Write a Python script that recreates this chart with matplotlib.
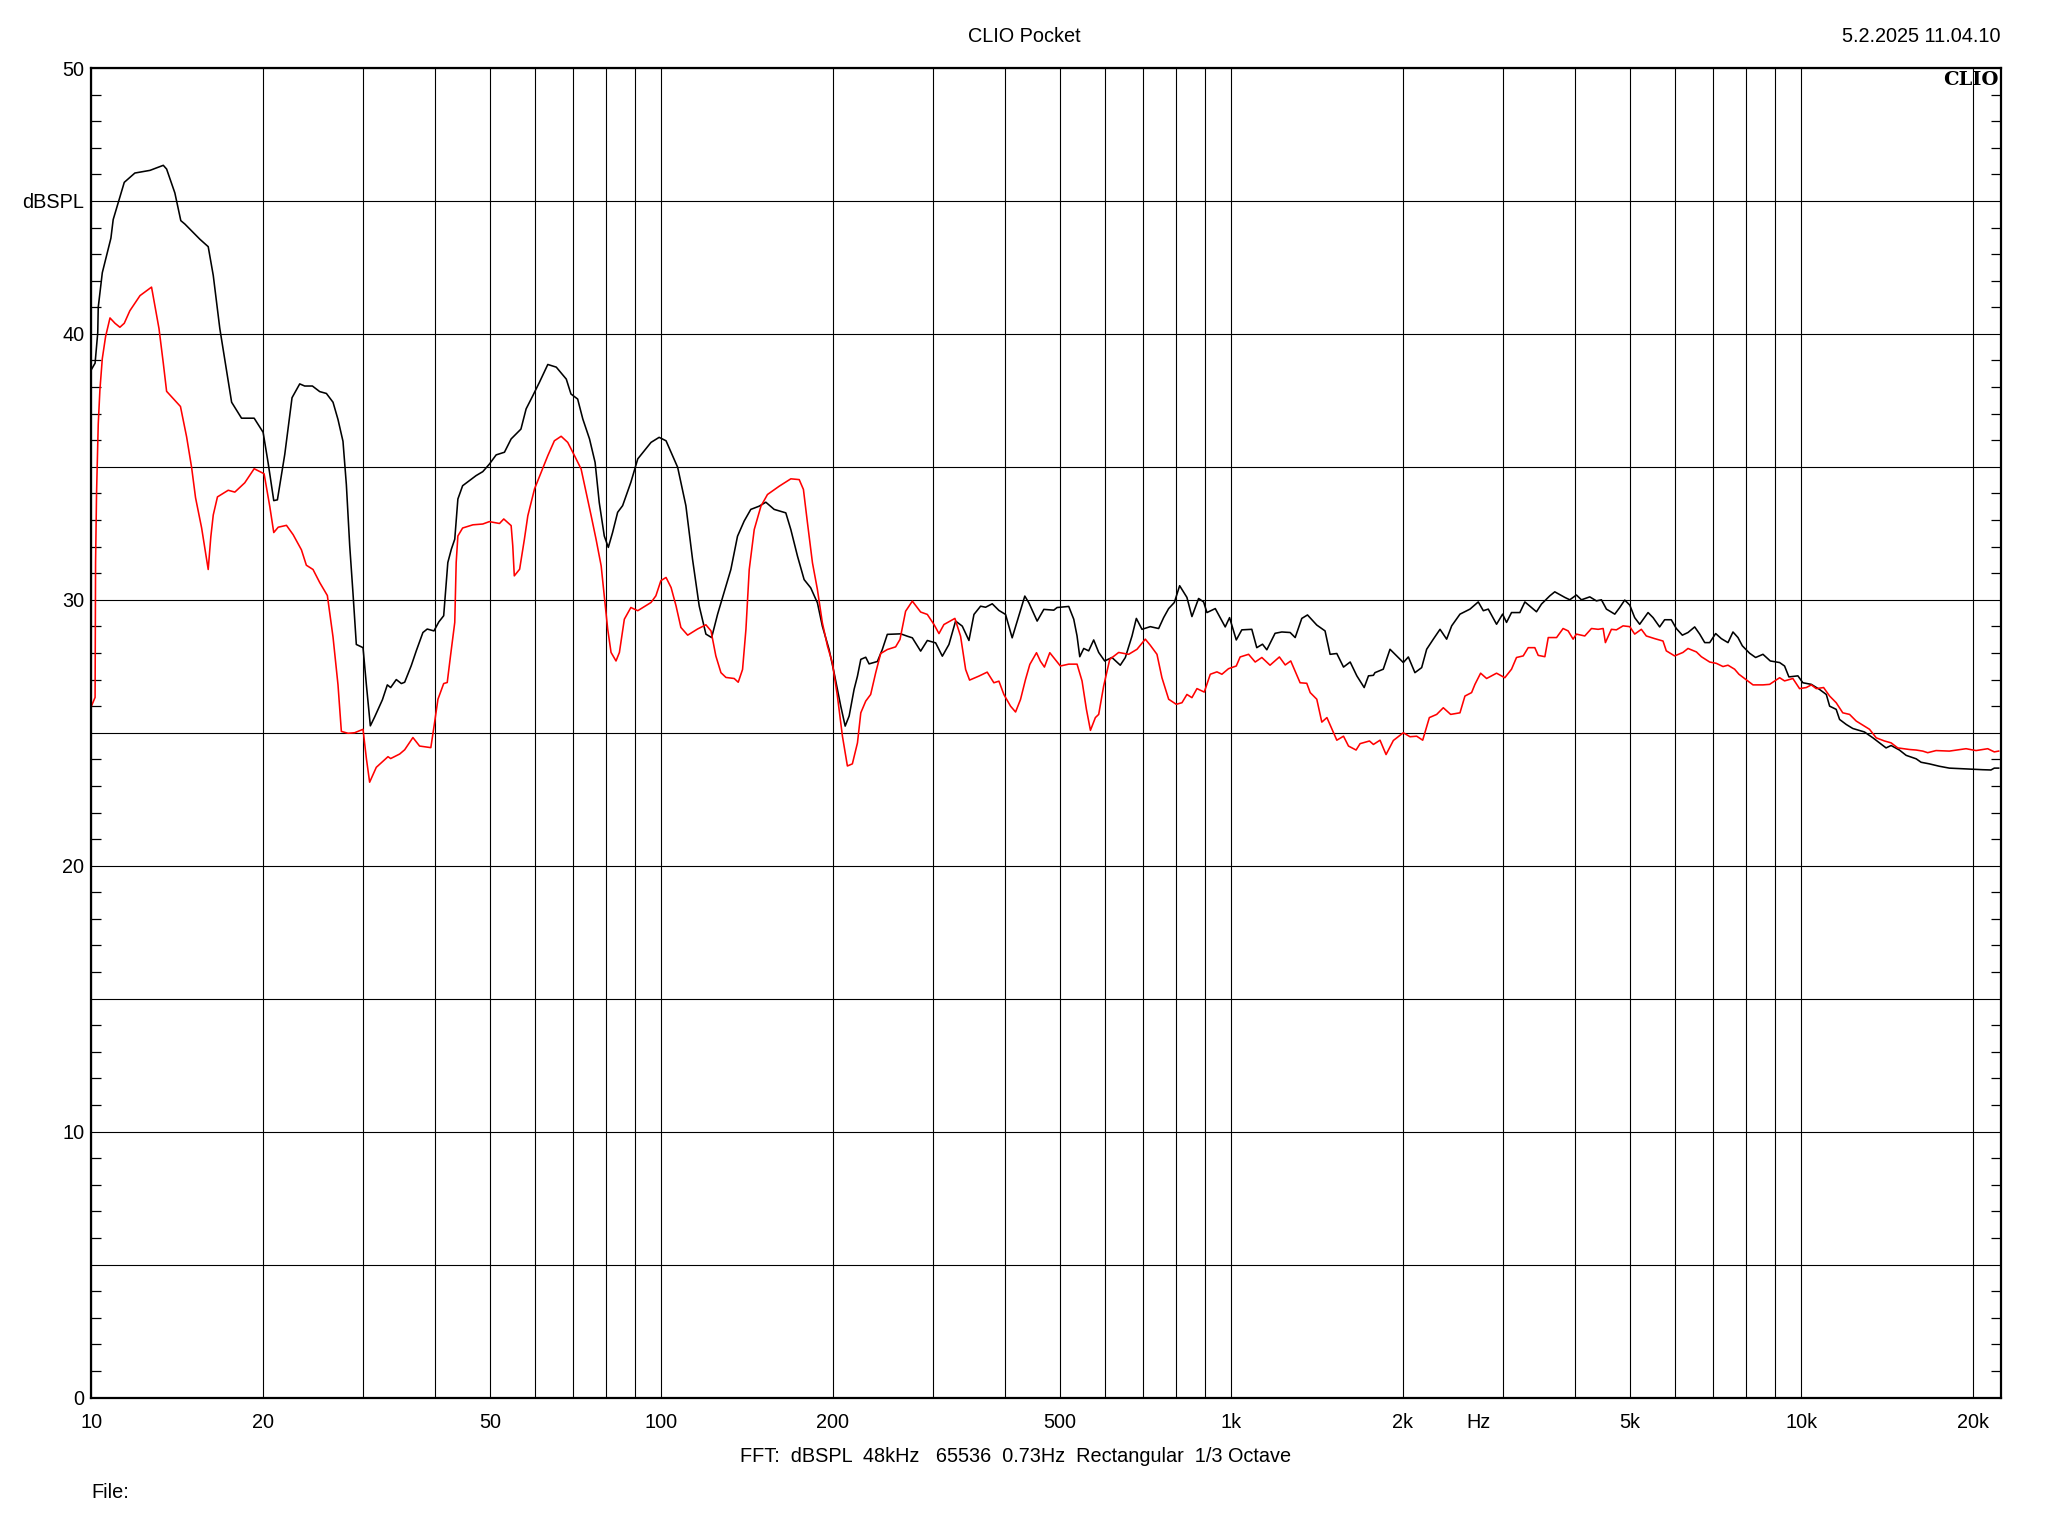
import matplotlib
matplotlib.use("Agg")
import matplotlib.pyplot as plt
from matplotlib.ticker import NullLocator

plt.rcParams['font.family'] = ['Liberation Sans', 'DejaVu Sans']

# Odečtené hodnoty - černá křivka (Hz, dBSPL)
black_freq = [
    10.0, 10.15, 10.26, 10.28, 10.45, 10.82, 10.92, 11.15, 11.42, 11.92,
    12.67, 13.37, 13.55, 14.01, 14.35, 14.59, 15.5, 16.03, 16.36, 16.8,
    17.62, 18.34, 19.3, 20.01, 20.42, 20.89, 21.2, 21.84, 22.49, 23.2,
    23.67, 24.42, 25.15, 25.84, 26.54, 27.08, 27.63, 28.01, 28.39, 28.77,
    29.16, 29.96, 30.37, 30.86, 31.41, 32.4, 33.05, 33.5, 34.27, 34.98,
    35.45, 36.4, 37.15, 38.16, 38.83, 39.9, 40.7, 41.5, 42.2, 42.8,
    43.4, 43.95, 44.8, 46.05, 47.3, 48.6, 49.9, 51.3, 53.05, 54.5,
    56.7, 57.9, 59.5, 61.1, 63.2, 65.4, 68.1, 69.4, 71.3, 72.8,
    74.8, 76.5, 77.8, 79.4, 80.7, 82.1, 83.8, 85.5, 88.4, 90.9,
    95.9, 99.1, 101.9, 106.8, 110.4, 113.4, 116.5, 119.7, 122.5, 125.5,
    128.9, 132.4, 136.0, 139.7, 143.5, 148.4, 152.5, 157.7, 165.3, 168.7,
    173.3, 178.0, 182.8, 187.8, 191.6, 196.9, 200.9, 206.4, 210.1, 213.5,
    217.8, 220.8, 223.8, 228.3, 231.4, 239.3, 244.1, 249.1, 263.0, 270.1,
    275.6, 285.0, 292.8, 302.8, 311.1, 319.5, 328.2, 337.2, 346.4, 353.5,
    363.1, 370.5, 380.6, 391.0, 401.6, 412.5, 423.7, 434.1, 441.2, 456.3,
    468.8, 488.0, 494.6, 518.4, 529.0, 536.1, 542.0, 550.8, 561.9, 573.4,
    585.1, 599.4, 617.3, 638.4, 651.6, 669.4, 681.2, 696.9, 720.7, 745.4,
    760.6, 776.2, 794.2, 811.4, 835.6, 852.7, 876.0, 893.9, 906.0, 937.0,
    975.4, 992.7, 1020, 1043, 1086, 1108, 1134, 1154, 1193, 1226,
    1268, 1294, 1329, 1360, 1412, 1460, 1490, 1531, 1573, 1616,
    1660, 1710, 1740, 1775, 1786, 1847, 1898, 1950, 2003, 2044,
    2099, 2157, 2201, 2261, 2323, 2386, 2435, 2518, 2622, 2711,
    2767, 2823, 2919, 2991, 3039, 3101, 3207, 3273, 3430, 3500,
    3620, 3693, 3846, 3924, 4030, 4113, 4254, 4369, 4459, 4550,
    4706, 4801, 4899, 5000, 5100, 5204, 5383, 5493, 5641, 5756,
    5913, 6034, 6183, 6326, 6499, 6632, 6768, 6905, 7074, 7237,
    7435, 7586, 7741, 7878, 8114, 8313, 8563, 8820, 9159, 9344,
    9509, 9861, 10060, 10410, 10760, 11060, 11210, 11510, 11670, 11990,
    12310, 12900, 13350, 13710, 14080, 14370, 14860, 15270, 15900, 16220,
    16770, 17460, 18180, 19450, 20800, 21510, 21800, 22190,
]
black_db = [
    38.66, 38.9, 40.05, 41.0, 42.3, 43.6, 44.3, 44.95, 45.7, 46.05,
    46.15, 46.34, 46.2, 45.3, 44.26, 44.13, 43.56, 43.28, 42.2, 40.2,
    37.43, 36.83, 36.83, 36.3, 35.15, 33.73, 33.76, 35.47, 37.6, 38.12,
    38.04, 38.04, 37.83, 37.76, 37.43, 36.78, 35.96, 34.33, 32.04, 30.25,
    28.32, 28.2, 26.8, 25.26, 25.6, 26.24, 26.8, 26.7, 27.0, 26.85,
    26.9, 27.52, 28.08, 28.77, 28.9, 28.83, 29.17, 29.4, 31.4, 31.9,
    32.28, 33.79, 34.29, 34.48, 34.67, 34.82, 35.1, 35.45, 35.55, 36.05,
    36.42, 37.18, 37.68, 38.18, 38.85, 38.75, 38.3, 37.74, 37.55, 36.8,
    36.05, 35.17, 33.66, 32.4, 31.97, 32.53, 33.29, 33.54, 34.42, 35.3,
    35.92, 36.11, 35.98, 34.98, 33.54, 31.53, 29.77, 28.71, 28.58, 29.46,
    30.3, 31.14, 32.39, 32.96, 33.4, 33.52, 33.67, 33.4, 33.27, 32.64,
    31.64, 30.76, 30.45, 29.89, 29.01, 28.13, 27.26, 26.0, 25.25, 25.63,
    26.63, 27.13, 27.76, 27.84, 27.59, 27.68, 28.13, 28.7, 28.72, 28.63,
    28.57, 28.07, 28.47, 28.38, 27.88, 28.32, 29.2, 29.01, 28.47, 29.45,
    29.76, 29.72, 29.85, 29.6, 29.45, 28.57, 29.39, 30.14, 29.89, 29.2,
    29.64, 29.61, 29.71, 29.75, 29.27, 28.64, 27.86, 28.17, 28.08, 28.49,
    28.02, 27.7, 27.83, 27.54, 27.83, 28.64, 29.3, 28.89, 28.99, 28.92,
    29.33, 29.67, 29.9, 30.53, 30.09, 29.37, 30.05, 29.92, 29.52, 29.67,
    28.98, 29.33, 28.49, 28.87, 28.89, 28.2, 28.33, 28.12, 28.74, 28.79,
    28.77, 28.58, 29.3, 29.43, 29.05, 28.83, 27.95, 27.98, 27.47, 27.66,
    27.14, 26.7, 27.14, 27.16, 27.26, 27.39, 28.14, 27.89, 27.64, 27.85,
    27.26, 27.45, 28.14, 28.52, 28.89, 28.52, 29.02, 29.46, 29.65, 29.92,
    29.59, 29.65, 29.08, 29.46, 29.15, 29.52, 29.52, 29.92, 29.55, 29.84,
    30.15, 30.3, 30.09, 30.0, 30.18, 30.0, 30.11, 29.96, 30.0, 29.65,
    29.46, 29.71, 29.99, 29.8, 29.33, 29.08, 29.52, 29.33, 28.98, 29.25,
    29.25, 28.92, 28.67, 28.77, 28.98, 28.71, 28.39, 28.39, 28.73, 28.54,
    28.39, 28.79, 28.58, 28.27, 27.99, 27.83, 27.95, 27.7, 27.64, 27.51,
    27.1, 27.14, 26.88, 26.82, 26.63, 26.44, 26.0, 25.88, 25.5, 25.31,
    25.16, 25.03, 24.81, 24.62, 24.43, 24.52, 24.35, 24.15, 24.02, 23.89,
    23.83, 23.74, 23.67, 23.64, 23.61, 23.6, 23.67, 23.67,
]

# Odečtené hodnoty - červená křivka (Hz, dBSPL)
red_freq = [
    10.0, 10.15, 10.17, 10.21, 10.28, 10.35, 10.45, 10.59, 10.78, 11.0,
    11.22, 11.42, 11.68, 12.17, 12.75, 13.14, 13.37, 13.55, 14.01, 14.33,
    14.69, 14.99, 15.23, 15.61, 15.92, 16.03, 16.2, 16.36, 16.64, 17.38,
    17.85, 18.58, 19.3, 20.09, 20.56, 20.89, 21.27, 21.99, 22.59, 23.36,
    23.83, 24.48, 25.15, 25.94, 26.54, 27.08, 27.45, 28.2, 28.96, 29.96,
    30.37, 30.77, 31.61, 33.14, 33.5, 34.74, 35.45, 36.65, 37.65, 39.4,
    40.0, 40.55, 41.5, 42.1, 42.66, 43.4, 43.65, 43.95, 44.8, 46.7,
    48.6, 49.9, 52.0, 52.9, 54.5, 54.86, 55.2, 56.4, 57.5, 58.3,
    59.9, 61.5, 63.2, 64.9, 66.7, 68.5, 70.4, 72.3, 73.8, 75.3,
    76.8, 78.4, 79.4, 80.5, 81.6, 83.25, 84.4, 86.1, 88.4, 90.9,
    95.9, 97.8, 99.8, 101.9, 104.0, 106.1, 108.2, 111.2, 115.7, 119.7,
    122.2, 124.6, 127.2, 129.8, 134.2, 136.4, 138.8, 140.7, 142.6, 145.5,
    149.5, 153.5, 160.9, 168.7, 174.5, 177.5, 180.4, 184.1, 187.8, 191.6,
    195.6, 199.5, 203.6, 207.8, 212.0, 216.3, 220.8, 223.8, 228.3, 232.9,
    237.7, 242.5, 249.1, 257.6, 262.2, 268.2, 275.6, 285.0, 292.8, 300.8,
    306.9, 313.1, 327.3, 334.9, 341.8, 347.3, 360.6, 372.9, 383.1, 391.0,
    398.9, 409.8, 418.2, 426.6, 435.3, 443.0, 455.1, 462.4, 469.9, 480.2,
    488.0, 501.2, 518.4, 536.1, 547.0, 556.8, 565.9, 577.3, 585.1, 597.0,
    611.8, 634.3, 660.4, 683.1, 706.3, 720.7, 740.4, 755.4, 776.2, 800.4,
    819.1, 835.6, 852.7, 870.2, 896.3, 918.3, 943.3, 962.5, 988.6, 1020,
    1036, 1072, 1101, 1131, 1169, 1214, 1243, 1271, 1320, 1356,
    1375, 1412, 1441, 1471, 1531, 1573, 1605, 1655, 1682, 1747,
    1775, 1823, 1868, 1924, 2003, 2058, 2114, 2166, 2225, 2292,
    2354, 2425, 2518, 2569, 2639, 2675, 2737, 2804, 2919, 3018,
    3101, 3164, 3251, 3317, 3407, 3454, 3548, 3597, 3720, 3819,
    3898, 3977, 4030, 4169, 4283, 4400, 4490, 4531, 4642, 4737,
    4866, 5000, 5100, 5239, 5345, 5529, 5718, 5795, 5993, 6198,
    6326, 6544, 6676, 6905, 7093, 7287, 7435, 7636, 7771, 7952,
    8226, 8563, 8797, 9159, 9344, 9663, 9927, 10200, 10410, 10620,
    10940, 11210, 11510, 11820, 12150, 12480, 12900, 13170, 13530, 13990,
    14370, 14760, 15480, 15900, 16330, 16660, 17230, 18180, 19450, 20250,
    21230, 21800, 22190,
]
red_db = [
    26.0, 26.33, 31.4, 34.0, 36.6, 37.9, 39.07, 39.9, 40.6, 40.4,
    40.25, 40.4, 40.87, 41.44, 41.76, 40.2, 38.9, 37.84, 37.5, 37.27,
    36.13, 34.98, 33.84, 32.7, 31.55, 31.14, 32.37, 33.19, 33.87, 34.12,
    34.05, 34.4, 34.93, 34.74, 33.5, 32.53, 32.73, 32.8, 32.45, 31.88,
    31.3, 31.14, 30.65, 30.16, 28.6, 26.8, 25.05, 24.98, 25.0, 25.13,
    24.03, 23.14, 23.7, 24.1, 24.03, 24.2, 24.36, 24.82, 24.5, 24.44,
    25.38, 26.26, 26.85, 26.89, 27.89, 29.15, 31.4, 32.4, 32.7, 32.82,
    32.85, 32.94, 32.87, 33.04, 32.79, 32.03, 30.9, 31.15, 32.28, 33.16,
    34.17, 34.79, 35.42, 35.98, 36.15, 35.92, 35.42, 34.92, 34.04, 33.16,
    32.28, 31.28, 30.15, 28.9, 28.02, 27.7, 28.02, 29.27, 29.71, 29.59,
    29.9, 30.15, 30.72, 30.84, 30.46, 29.77, 28.96, 28.67, 28.9, 29.06,
    28.83, 27.89, 27.26, 27.08, 27.04, 26.9, 27.38, 28.88, 31.14, 32.64,
    33.52, 33.96, 34.27, 34.55, 34.52, 34.15, 32.9, 31.39, 30.39, 29.14,
    28.26, 27.63, 26.38, 24.87, 23.75, 23.83, 24.62, 25.75, 26.19, 26.44,
    27.26, 27.98, 28.13, 28.23, 28.51, 29.57, 29.95, 29.54, 29.45, 29.07,
    28.73, 29.07, 29.3, 28.63, 27.38, 26.98, 27.13, 27.28, 26.88, 26.94,
    26.44, 26.0, 25.78, 26.25, 27.0, 27.57, 28.01, 27.69, 27.47, 28.01,
    27.82, 27.51, 27.58, 27.58, 26.95, 25.88, 25.09, 25.57, 25.69, 26.76,
    27.76, 28.02, 27.95, 28.14, 28.52, 28.29, 27.95, 27.07, 26.26, 26.07,
    26.13, 26.44, 26.32, 26.66, 26.53, 27.2, 27.29, 27.2, 27.41, 27.51,
    27.85, 27.95, 27.66, 27.83, 27.54, 27.85, 27.55, 27.7, 26.88, 26.86,
    26.51, 26.26, 25.4, 25.57, 24.72, 24.87, 24.5, 24.35, 24.59, 24.69,
    24.56, 24.72, 24.18, 24.71, 25.0, 24.85, 24.87, 24.72, 25.57, 25.69,
    25.94, 25.69, 25.75, 26.38, 26.51, 26.82, 27.24, 27.04, 27.24, 27.07,
    27.39, 27.83, 27.89, 28.2, 28.2, 27.91, 27.86, 28.58, 28.58, 28.92,
    28.83, 28.52, 28.71, 28.64, 28.92, 28.89, 28.92, 28.39, 28.89, 28.87,
    29.02, 28.99, 28.71, 28.89, 28.64, 28.54, 28.45, 28.08, 27.89, 28.02,
    28.17, 28.04, 27.86, 27.66, 27.61, 27.49, 27.54, 27.39, 27.2, 27.04,
    26.8, 26.8, 26.82, 27.07, 26.95, 27.04, 26.66, 26.7, 26.8, 26.66,
    26.7, 26.38, 26.13, 25.75, 25.69, 25.44, 25.25, 25.13, 24.81, 24.69,
    24.62, 24.43, 24.37, 24.35, 24.31, 24.25, 24.33, 24.31, 24.4, 24.33,
    24.4, 24.28, 24.31,
]

# Osy a popisky
grid_freqs = [20, 30, 40, 50, 60, 70, 80, 90,
              100, 200, 300, 400, 500, 600, 700, 800, 900,
              1000, 2000, 3000, 4000, 5000, 6000, 7000, 8000, 9000,
              10000, 20000]
x_labels = {10: '10', 20: '20', 50: '50', 100: '100', 200: '200', 500: '500',
            1000: '1k', 2000: '2k', 5000: '5k', 10000: '10k', 20000: '20k'}
y_ticks = [0, 5, 10, 15, 20, 25, 30, 35, 40, 45, 50]
y_labels = ['0', '', '10', '', '20', '', '30', '', '40', 'dBSPL', '50']

W, H = 2048, 1536
fs = 14.3
fig = plt.figure(figsize=(W / 100, H / 100), dpi=100)
left, right, top, bottom = 91.4, 2001.0, 68.0, 1397.5
ax = fig.add_axes([left / W, 1 - bottom / H, (right - left) / W, (bottom - top) / H])

ax.plot(black_freq, black_db, color='black', linewidth=1.15)
ax.plot(red_freq, red_db, color='#ff0000', linewidth=1.15)

ax.set_xscale('log')
ax.set_xlim(10, 22400)
ax.set_ylim(0, 50)

xt = [10] + grid_freqs
ax.set_xticks(xt)
ax.set_xticklabels([x_labels.get(f, '') for f in xt])
ax.xaxis.set_minor_locator(NullLocator())
ax.tick_params(axis='x', which='major', length=0, pad=11, labelsize=fs)

ax.set_yticks(y_ticks)
ax.set_yticklabels(y_labels)
ax.set_yticks(range(0, 51), minor=True)
ax.tick_params(axis='y', which='major', length=0, pad=5, labelsize=fs)
ax.tick_params(axis='y', which='minor', direction='in', length=7.5, width=0.9,
               left=True, right=True)

ax.grid(True, which='major', color='black', linewidth=0.8)
for s in ax.spines.values():
    s.set_linewidth(1.6)

# Texty kolem grafu
fig.text(1024 / W, 1 - 36 / H, 'CLIO Pocket', ha='center', va='center', fontsize=fs)
fig.text(2001 / W, 1 - 36 / H, '5.2.2025 11.04.10', ha='right', va='center', fontsize=fs)
fig.text(1999 / W, 1 - 80 / H, 'CLIO', ha='right', va='center', fontsize=14,
         fontweight='bold', family=['DejaVu Serif'])
fig.text(1478 / W, 1 - 1423 / H, 'Hz', ha='center', va='center', fontsize=fs)
fig.text(740 / W, 1 - 1457 / H, 'FFT:  dBSPL  48kHz   65536  0.73Hz  Rectangular  1/3 Octave',
         ha='left', va='center', fontsize=fs)
fig.text(91 / W, 1 - 1492 / H, 'File:', ha='left', va='center', fontsize=fs)

fig.savefig('out.png', dpi=100)
